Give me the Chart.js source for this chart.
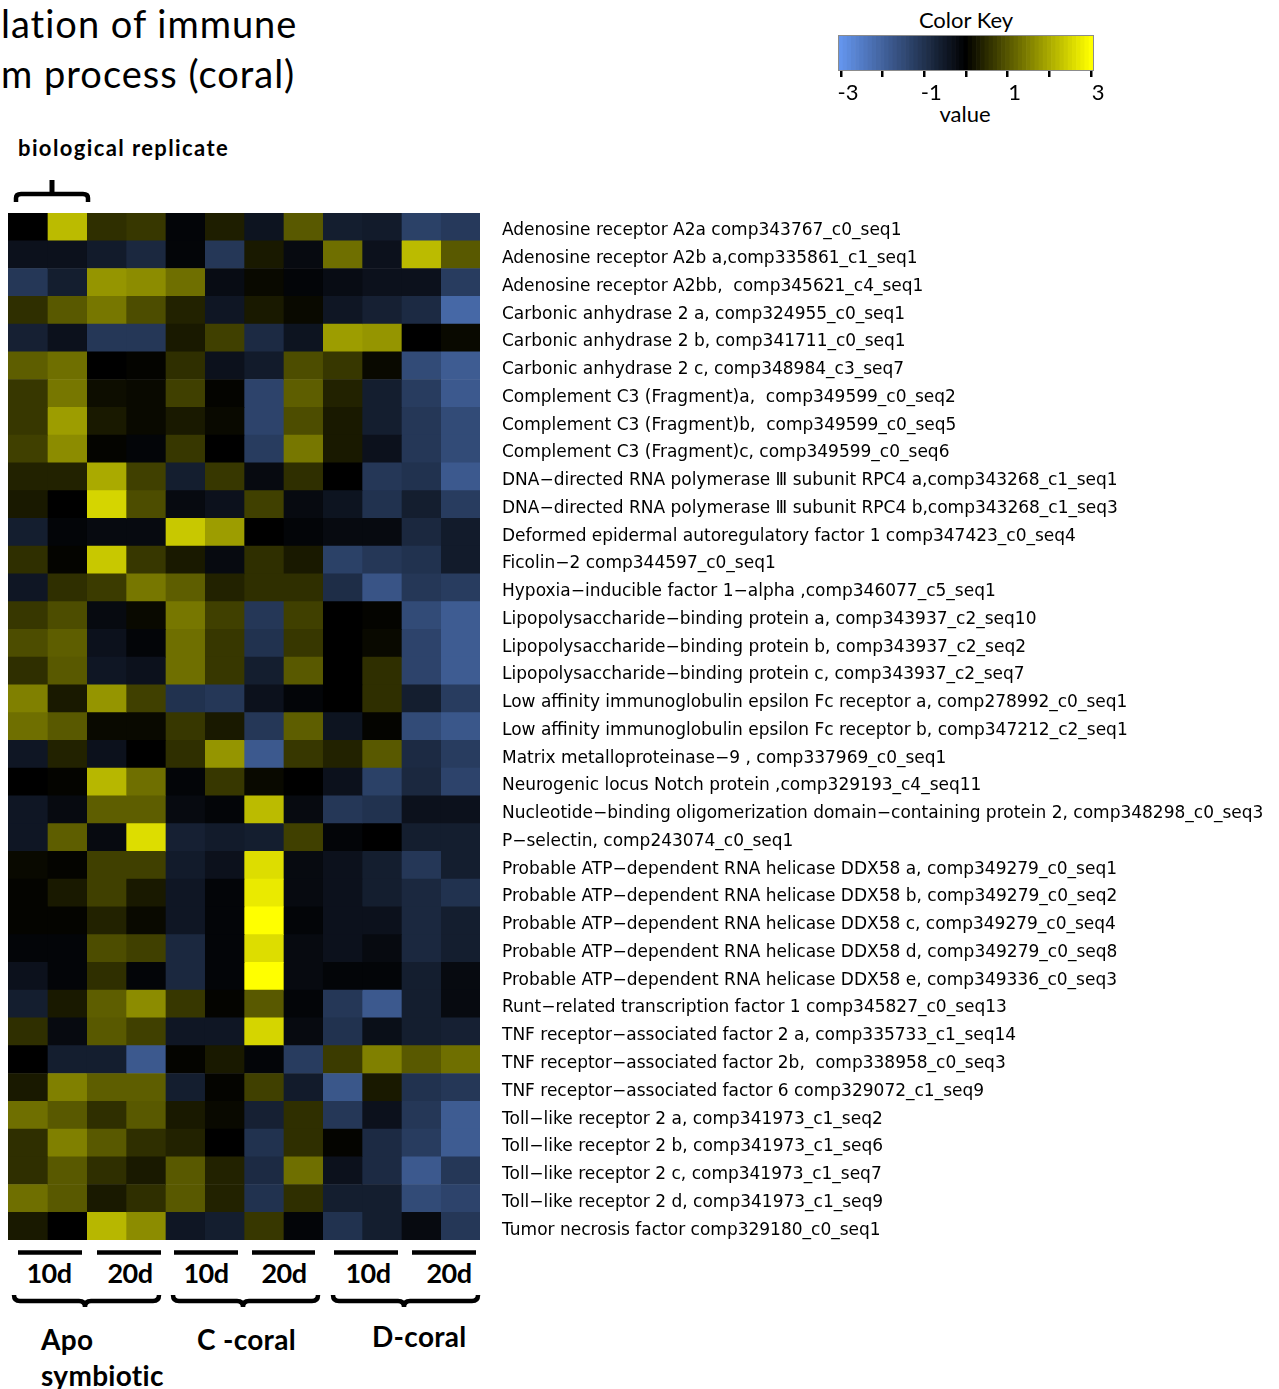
<!DOCTYPE html>
<html lang="en">

<head>
    <meta charset="UTF-8" />
    <meta name="viewport" content="width=device-width, initial-scale=1.0" />
    <title>Regulation of immune system process (coral)</title>
    <style>
        * {
            margin: 0;
            padding: 0;
        }

        body {
            width: 1279px;
            height: 1389px;
            position: relative;
            overflow: hidden;
            background: #fff;
            color: #000;
            font-family: Lato, "Open Sans", sans-serif;
        }

        .txt {
            position: absolute;
            white-space: nowrap;
            line-height: 1;
        }

        .title {
            left: 1px;
            font-size: 38px;
            letter-spacing: 1px;
        }

        .time {
            font-size: 27px;
            font-weight: bold;
            letter-spacing: -0.5px;
            transform: translateX(-50%);
        }

        .group {
            font-size: 28px;
            font-weight: bold;
            letter-spacing: 0.3px;
        }

        .heatBox {
            position: absolute;
            left: 8px;
            top: 213px;
            width: 1271px;
            height: 1027px;
        }

        .keyBox {
            position: absolute;
            left: 820px;
            top: 0;
            width: 300px;
            height: 135px;
        }

        svg {
            position: absolute;
            left: 0;
            top: 0;
        }
    </style>
</head>

<body>
    <div class="txt title" style="top:4px">lation of immune</div>
    <div class="txt title" style="top:54px">m process (coral)</div>
    <div class="txt" style="left:18px; top:137px; font-size:22px; font-weight:bold; letter-spacing:1.4px">biological replicate</div>

    <div class="txt" style="left:966px; top:9px; font-size:22px; transform:translateX(-50%)">Color Key</div>
    <div class="txt" style="left:965px; top:103px; font-size:22px; transform:translateX(-50%)">value</div>

    <svg width="1279" height="1389">
        <g stroke="#000" stroke-width="4.5" fill="none">
            <!-- replicate brace -->
            <path d="M16,202 L16,198 Q16,194 21,194 L83,194 Q88,194 88,198 L88,202" />
            <line x1="52" y1="180" x2="52" y2="194" stroke-width="5" />
            <!-- time bars -->
            <line x1="18" y1="1252.5" x2="82" y2="1252.5" />
            <line x1="97" y1="1252.5" x2="161" y2="1252.5" />
            <line x1="174" y1="1252.5" x2="238" y2="1252.5" />
            <line x1="252" y1="1252.5" x2="315" y2="1252.5" />
            <line x1="334" y1="1252.5" x2="398" y2="1252.5" />
            <line x1="412" y1="1252.5" x2="476" y2="1252.5" />
            <!-- group braces -->
            <path d="M14,1295 Q14,1301 20,1301 L79,1301 Q85,1301 85,1307 Q85,1301 91,1301 L153,1301 Q159,1301 159,1295" />
            <path d="M173,1295 Q173,1301 179,1301 L237,1301 Q243,1301 243,1307 Q243,1301 249,1301 L312,1301 Q318,1301 318,1295" />
            <path d="M333,1295 Q333,1301 339,1301 L398,1301 Q404,1301 404,1307 Q404,1301 410,1301 L472,1301 Q478,1301 478,1295" />
        </g>
    </svg>

    <div class="txt time" style="left:49px; top:1259px">10d</div>
    <div class="txt time" style="left:130px; top:1259px">20d</div>
    <div class="txt time" style="left:206px; top:1259px">10d</div>
    <div class="txt time" style="left:284px; top:1259px">20d</div>
    <div class="txt time" style="left:368px; top:1259px">10d</div>
    <div class="txt time" style="left:449px; top:1259px">20d</div>

    <div class="txt group" style="left:41px; top:1325px">Apo</div>
    <div class="txt group" style="left:41px; top:1361px">symbiotic</div>
    <div class="txt group" style="left:197px; top:1325px">C -coral</div>
    <div class="txt group" style="left:372px; top:1322px">D-coral</div>

    <div class="heatBox">
        <canvas id="heatChart"></canvas>
    </div>
    <div class="keyBox">
        <canvas id="keyChart"></canvas>
    </div>

    <script src="https://cdn.jsdelivr.net/npm/chart.js@4.4.1/dist/chart.umd.min.js"></script>
    <script>
        // gene rows, top to bottom
        const geneLabels = [
            "Adenosine receptor A2a comp343767_c0_seq1",
            "Adenosine receptor A2b a,comp335861_c1_seq1",
            "Adenosine receptor A2bb,  comp345621_c4_seq1",
            "Carbonic anhydrase 2 a, comp324955_c0_seq1",
            "Carbonic anhydrase 2 b, comp341711_c0_seq1",
            "Carbonic anhydrase 2 c, comp348984_c3_seq7",
            "Complement C3 (Fragment)a,  comp349599_c0_seq2",
            "Complement C3 (Fragment)b,  comp349599_c0_seq5",
            "Complement C3 (Fragment)c, comp349599_c0_seq6",
            "DNA\u2212directed RNA polymerase \u2162 subunit RPC4 a,comp343268_c1_seq1",
            "DNA\u2212directed RNA polymerase \u2162 subunit RPC4 b,comp343268_c1_seq3",
            "Deformed epidermal autoregulatory factor 1 comp347423_c0_seq4",
            "Ficolin\u22122 comp344597_c0_seq1",
            "Hypoxia\u2212inducible factor 1\u2212alpha ,comp346077_c5_seq1",
            "Lipopolysaccharide\u2212binding protein a, comp343937_c2_seq10",
            "Lipopolysaccharide\u2212binding protein b, comp343937_c2_seq2",
            "Lipopolysaccharide\u2212binding protein c, comp343937_c2_seq7",
            "Low affinity immunoglobulin epsilon Fc receptor a, comp278992_c0_seq1",
            "Low affinity immunoglobulin epsilon Fc receptor b, comp347212_c2_seq1",
            "Matrix metalloproteinase\u22129 , comp337969_c0_seq1",
            "Neurogenic locus Notch protein ,comp329193_c4_seq11",
            "Nucleotide\u2212binding oligomerization domain\u2212containing protein 2, comp348298_c0_seq3",
            "P\u2212selectin, comp243074_c0_seq1",
            "Probable ATP\u2212dependent RNA helicase DDX58 a, comp349279_c0_seq1",
            "Probable ATP\u2212dependent RNA helicase DDX58 b, comp349279_c0_seq2",
            "Probable ATP\u2212dependent RNA helicase DDX58 c, comp349279_c0_seq4",
            "Probable ATP\u2212dependent RNA helicase DDX58 d, comp349279_c0_seq8",
            "Probable ATP\u2212dependent RNA helicase DDX58 e, comp349336_c0_seq3",
            "Runt\u2212related transcription factor 1 comp345827_c0_seq13",
            "TNF receptor\u2212associated factor 2 a, comp335733_c1_seq14",
            "TNF receptor\u2212associated factor 2b,  comp338958_c0_seq3",
            "TNF receptor\u2212associated factor 6 comp329072_c1_seq9",
            "Toll\u2212like receptor 2 a, comp341973_c1_seq2",
            "Toll\u2212like receptor 2 b, comp341973_c1_seq6",
            "Toll\u2212like receptor 2 c, comp341973_c1_seq7",
            "Toll\u2212like receptor 2 d, comp341973_c1_seq9",
            "Tumor necrosis factor comp329180_c0_seq1",
        ];

        const sampleNames = [
            "Apo 10d rep1", "Apo 10d rep2", "Apo 20d rep1", "Apo 20d rep2",
            "C-coral 10d rep1", "C-coral 10d rep2", "C-coral 20d rep1", "C-coral 20d rep2",
            "D-coral 10d rep1", "D-coral 10d rep2", "D-coral 20d rep1", "D-coral 20d rep2",
        ];

        // row z-scores per sample column
        const apo10dA = [0, -0.35, -1.1, 0.55, -0.65, 1.1, 0.65, 0.65, 0.75, 0.4, 0.3, -0.6, 0.55, -0.45, 0.65, 0.9, 0.55, 1.5, 1.3, -0.45, 0, -0.45, -0.45, 0.1, 0.05, 0.05, -0.1, -0.35, -0.6, 0.55, 0, 0.3, 1.3, 0.55, 0.55, 1.3, 0.3];
        const apo10dB = [2.2, -0.35, -0.6, 1.05, -0.35, 1.3, 1.4, 1.85, 1.65, 0.4, 0, -0.1, 0.05, 0.55, 0.9, 1.1, 1.05, 0.3, 1.05, 0.4, 0.05, -0.2, 1.1, 0.05, 0.3, 0.05, -0.1, -0.1, 0.3, -0.2, -0.6, 1.5, 1.05, 1.5, 1.05, 1.05, 0];
        const apo20dA = [0.55, -0.55, 1.75, 1.4, -1.1, 0, 0.15, 0.3, 0.05, 2.0, 2.5, -0.2, 2.35, 0.7, -0.2, -0.35, -0.45, 1.75, 0.1, -0.35, 2.15, 1.1, -0.2, 0.75, 0.75, 0.4, 0.9, 0.55, 1.1, 1.05, -0.6, 1.1, 0.55, 1.05, 0.55, 0.3, 2.15];
        const apo20dB = [0.65, -0.8, 1.65, 0.9, -1.1, 0.05, 0.1, 0.1, -0.1, 0.75, 0.9, -0.2, 0.65, 1.4, 0.1, -0.1, -0.35, 0.75, 0.1, 0, 1.3, 1.1, 2.6, 0.75, 0.3, 0.1, 0.75, -0.1, 1.65, 0.75, -1.8, 1.1, 1.05, 0.55, 0.3, 0.55, 1.65];
        const c10dA = [-0.1, -0.1, 1.3, 0.4, 0.3, 0.55, 0.75, 0.3, 0.65, -0.6, -0.2, 2.35, 0.3, 1.1, 1.4, 1.3, 1.3, -1.0, 0.65, 0.55, -0.1, -0.2, -0.65, -0.55, -0.45, -0.45, -0.8, -0.8, 0.65, -0.45, 0.05, -0.6, 0.3, 0.4, 1.05, 1.05, -0.45];
        const c10dB = [0.35, -1.1, -0.25, -0.45, 0.75, -0.35, 0.05, 0.1, 0, 0.65, -0.35, 1.85, -0.2, 0.4, 0.75, 0.65, 0.65, -1.1, 0.3, 1.75, 0.65, -0.1, -0.55, -0.35, -0.1, -0.1, -0.1, -0.1, 0.05, -0.45, 0.3, 0.05, 0.1, 0, 0.4, 0.4, -0.6];
        const c20dA = [-0.4, 0.3, 0.1, 0.3, -0.85, -0.55, -1.35, -1.35, -1.2, -0.2, 0.75, 0, 0.55, 0.55, -1.1, -1.0, -0.6, -0.35, -1.1, -1.8, 0.1, 2.2, -0.6, 2.6, 2.75, 3.0, 2.6, 3.0, 1.05, 2.5, -0.1, 0.75, -0.65, -1.0, -0.85, -1.0, 0.65];
        const c20dB = [1.05, -0.2, -0.1, 0.1, -0.4, 0.9, 1.1, 0.9, 1.4, 0.55, -0.2, -0.1, 0.3, 0.55, 0.75, 0.65, 1.05, -0.1, 1.1, 0.65, 0, -0.2, 0.75, -0.2, -0.2, -0.1, -0.2, -0.2, -0.1, -0.2, -1.2, -0.55, 0.55, 0.55, 1.3, 0.55, -0.1];
        const d10dA = [-0.6, 1.3, -0.25, -0.45, 1.85, 0.65, 0.4, 0.3, 0.3, 0, -0.4, -0.2, -1.3, -0.9, 0, 0, 0, 0, -0.4, 0.4, -0.35, -1.1, -0.1, -0.35, -0.35, -0.35, -0.35, -0.1, -1.1, -1.0, 0.7, -1.75, -1.1, 0.05, -0.35, -0.6, -1.0];
        const d10dB = [-0.55, -0.35, -0.35, -0.65, 1.75, 0.1, -0.6, -0.6, -0.35, -1.1, -1.0, -0.2, -1.1, -1.7, 0.05, 0.1, 0.55, 0.55, 0.05, 1.05, -1.3, -1.0, 0, -0.6, -0.6, -0.35, -0.2, -0.1, -1.8, -0.3, 1.5, 0.3, -0.35, -0.85, -0.85, -0.6, -0.6];
        const d20dA = [-1.3, 2.2, -0.35, -0.85, 0, -1.5, -1.2, -1.1, -1.1, -1.0, -0.6, -0.8, -1.0, -1.1, -1.5, -1.35, -1.35, -0.6, -1.5, -0.85, -0.8, -0.35, -0.6, -1.1, -0.8, -0.8, -0.8, -0.6, -0.6, -0.6, 1.05, -1.0, -1.1, -1.2, -1.8, -1.5, -0.2];
        const d20dB = [-1.15, 1.05, -1.2, -2.1, 0.1, -1.85, -1.8, -1.5, -1.5, -1.8, -1.2, -0.55, -0.55, -1.2, -1.85, -1.85, -1.85, -1.2, -1.75, -1.2, -1.35, -0.35, -0.6, -0.6, -1.0, -0.6, -0.6, -0.2, -0.2, -0.65, 1.3, -1.1, -1.85, -1.85, -1.1, -1.35, -1.1];

        const sampleValues = [apo10dA, apo10dB, apo20dA, apo20dB, c10dA, c10dB, c20dA, c20dB, d10dA, d10dB, d20dA, d20dB];

        // colour key
        const keyTicks = [-3, -2, -1, 0, 1, 2, 3];
        const keyBands = [];
        for (let i = -30; i <= 30; i++) {
            keyBands.push(i / 10);
        }

        Chart.defaults.font.family = "Lato, 'Open Sans', sans-serif";
        Chart.defaults.color = "#000";

        // cornflowerblue -> black -> yellow
        function keyColour(v) {
            const f = Math.min(Math.abs(v) / 3, 1);
            if (v >= 0) {
                const c = Math.round(255 * f);
                return "rgb(" + c + "," + c + ",0)";
            }
            return "rgb(" + Math.round(100 * f) + "," + Math.round(149 * f) + "," + Math.round(237 * f) + ")";
        }

        const heatDatasets = sampleNames.map(function (name, i) {
            return {
                label: name,
                data: geneLabels.map(() => 1),
                zValues: sampleValues[i],
                backgroundColor: sampleValues[i].map(keyColour),
                borderWidth: 0,
                barPercentage: 1,
                categoryPercentage: 1,
            };
        });

        const heatChart = new Chart(document.getElementById("heatChart"), {
            type: "bar",
            data: {
                labels: geneLabels,
                datasets: heatDatasets,
            },
            options: {
                indexAxis: "y",
                responsive: true,
                maintainAspectRatio: false,
                animation: false,
                layout: { padding: 0 },
                scales: {
                    x: {
                        stacked: true,
                        min: 0,
                        max: sampleNames.length,
                        display: false,
                    },
                    y: {
                        stacked: true,
                        position: "right",
                        grid: { display: false, drawTicks: false },
                        border: { display: false },
                        ticks: {
                            autoSkip: false,
                            padding: 22,
                            labelOffset: 4,
                            color: "#000",
                            font: { family: "'DejaVu Sans'", size: 17 },
                        },
                        afterFit: function (scale) {
                            scale.width = 799;
                            scale.paddingTop = 0;
                            scale.paddingBottom = 0;
                        },
                    },
                },
                plugins: {
                    legend: { display: false },
                    tooltip: {
                        callbacks: {
                            label: function (context) {
                                return context.dataset.label + ": " + context.dataset.zValues[context.dataIndex];
                            },
                        },
                    },
                },
            },
        });

        const outline = {
            id: "outline",
            afterDatasetsDraw(chart) {
                const { ctx, chartArea } = chart;
                ctx.save();
                ctx.strokeStyle = "#8c8c8c";
                ctx.lineWidth = 1;
                ctx.strokeRect(chartArea.left + 0.5, chartArea.top + 0.5, chartArea.width - 1, chartArea.height - 1);
                ctx.restore();
            },
        };

        const keyChart = new Chart(document.getElementById("keyChart"), {
            type: "bar",
            data: {
                datasets: [
                    {
                        data: keyBands.map((v) => ({ x: v, y: 1 })),
                        backgroundColor: keyBands.map(keyColour),
                        borderWidth: 0,
                        barPercentage: 1,
                        categoryPercentage: 1,
                    },
                ],
            },
            options: {
                responsive: true,
                maintainAspectRatio: false,
                animation: false,
                layout: { padding: { left: 18, right: 26, top: 35, bottom: 0 } },
                scales: {
                    x: {
                        type: "linear",
                        min: -3.07,
                        max: 3.07,
                        offset: false,
                        grid: {
                            offset: false,
                            drawOnChartArea: false,
                            drawTicks: true,
                            tickLength: 6,
                            color: "#000",
                            lineWidth: 2.5,
                        },
                        border: { display: false },
                        ticks: {
                            autoSkip: false,
                            maxRotation: 0,
                            padding: 3,
                            labelOffset: 7,
                            color: "#000",
                            font: { size: 22 },
                            callback: (v) => (v % 2 ? String(v) : ""),
                        },
                        afterBuildTicks: function (scale) {
                            scale.ticks = keyTicks.map((v) => ({ value: v }));
                        },
                        afterFit: function (scale) {
                            scale.height = 64;
                            scale.paddingLeft = 0;
                            scale.paddingRight = 0;
                        },
                    },
                    y: { display: false, min: 0, max: 1 },
                },
                plugins: {
                    legend: { display: false },
                    tooltip: { enabled: false },
                },
            },
            plugins: [outline],
        });
    </script>
</body>

</html>
